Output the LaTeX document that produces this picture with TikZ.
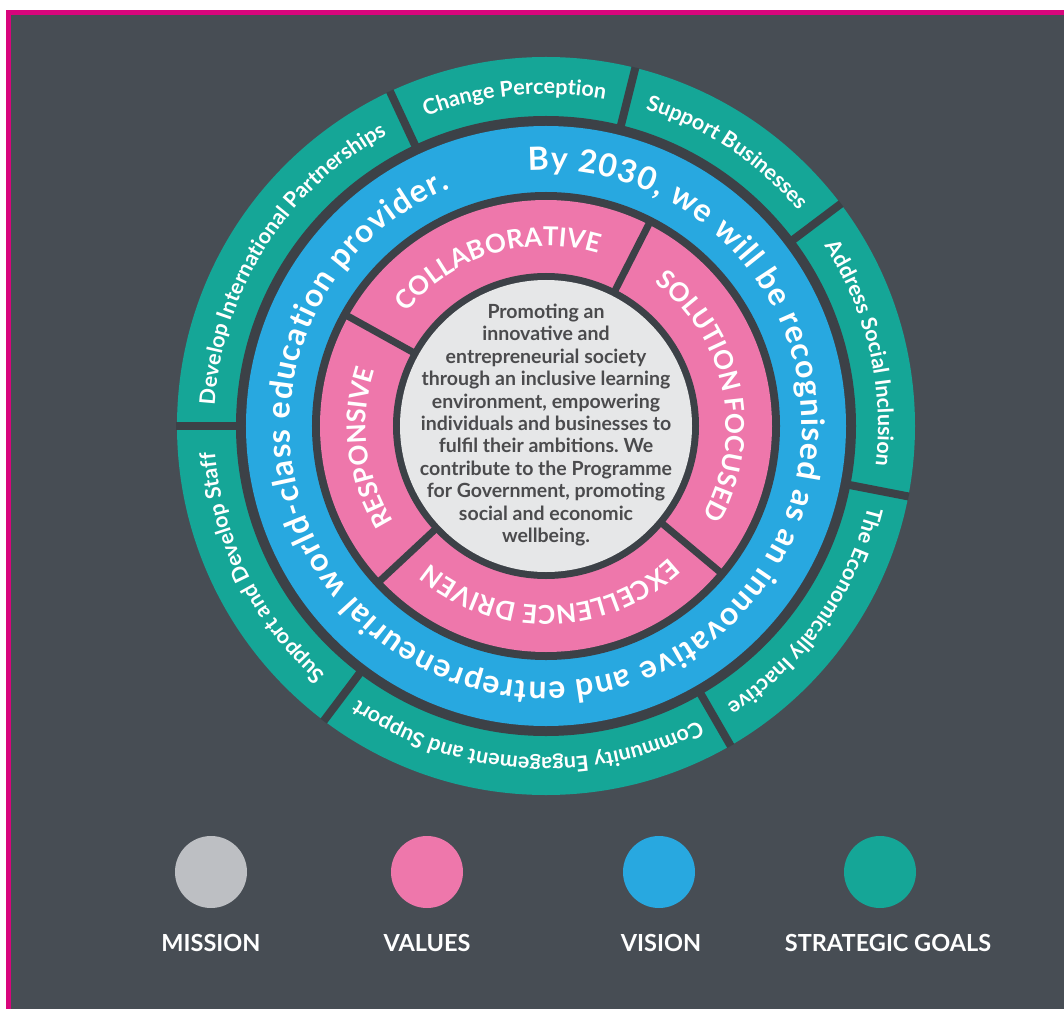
\documentclass[tikz,border=0pt]{standalone}
\usepackage{fontspec}
\setmainfont{Lato}
\usetikzlibrary{positioning,decorations.text}

\definecolor{framepink}{HTML}{D8057C}
\definecolor{boardgray}{HTML}{474D54}
\definecolor{gapgray}{HTML}{3C4147}
\definecolor{goalteal}{HTML}{15A697}
\definecolor{visionblue}{HTML}{28A8E0}
\definecolor{valuepink}{HTML}{EE77AB}
\definecolor{missiongray}{HTML}{E6E7E8}
\definecolor{legendgray}{HTML}{BDBFC3}
\definecolor{missiontext}{HTML}{4B4B4D}

\newcommand{\goalfont}{\fontsize{21.5}{21.5}\selectfont\bfseries}
\newcommand{\valuefont}{\fontsize{26}{26}\selectfont\bfseries}
\newcommand{\visionfont}{\fontsize{32}{32}\selectfont\bfseries}

\begin{document}
\frenchspacing
\begin{tikzpicture}[
    x=1pt, y=1pt,
    goaltext/.style={decorate, decoration={text along path, text align=center, text color=white, text/.expanded={|\noexpand\goalfont|#1}}},
    valuetext/.style={decorate, decoration={text along path, text align=center, text color=white, text/.expanded={|\noexpand\valuefont|#1}}},
    gapline/.style={draw=gapgray, line width=8pt},
    legenddot/.style={circle, minimum size=72pt, inner sep=0pt},
    legendlabel/.style={text=white, anchor=base, font=\fontsize{23.5}{23.5}\selectfont\bfseries}
]
\useasboundingbox (-546,-583) rectangle (518,426);
\fill[white] (-546,-583) rectangle (518,426);
\fill[framepink] (-540,-583) rectangle (518,416);
\fill[boardgray] (-535,-583) rectangle (518,411);

% rings, outside in
\fill[goalteal] (0,0) circle[radius=369];
\fill[gapgray] (0,0) circle[radius=310];
\fill[visionblue] (0,0) circle[radius=300];
\fill[gapgray] (0,0) circle[radius=234];
\fill[valuepink] (0,0) circle[radius=226];
\fill[gapgray] (0,0) circle[radius=153];
\fill[missiongray] (0,0) circle[radius=146];

% cuts between the segments
\foreach \a in {37,76,115,180,233,300,349}
    \draw[gapline] (\a:308) -- (\a:369.5);
\foreach \a in {63,151,223,320}
    \draw[gapline, line width=7pt] (\a:150) -- (\a:227);

% strategic goals
\foreach \s/\e/\txt in {76/115/Change Perception, 115/180/Develop International Partnerships,
    180/233/Support and Develop Staff, 233/300/Community Engagement and Support,
    300/349/The Economically Inactive, -11/37/Address Social Inclusion, 37/76/Support Businesses}
    \path[goaltext=\txt] (\e:332) arc[start angle=\e, end angle=\s, radius=332];

% vision
\path[decorate, decoration={text along path, text align=fit to path, text color=white,
    text={|\visionfont|By 2030{,} we will be recognised as an innovative and entrepreneurial world-class education provider.}}]
    (94:256) arc[start angle=94, end angle=-248, radius=256];

% values
\foreach \s/\e/\txt in {63/151/COLLABORATIVE, -40/63/SOLUTION FOCUSED,
    223/320/EXCELLENCE DRIVEN, 151/223/RESPONSIVE}
    \path[valuetext=\txt] (\e:180) arc[start angle=\e, end angle=\s, radius=180];

% mission
\node[align=center, text=missiontext, font=\fontsize{19.5}{22.4}\selectfont\bfseries] (mission) at (0,1)
    {Promoting an\\innovative and\\entrepreneurial society\\through an inclusive learning\\environment, empowering\\individuals and businesses to\\fulfil their ambitions. We\\contribute to the Programme\\for Government, promoting\\social and economic\\wellbeing.};

% legend
\foreach \x/\c/\t/\dx [count=\i] in {-335/legendgray/MISSION/0, -119/valuepink/VALUES/0,
    113/visionblue/VISION/2, 334/goalteal/STRATEGIC GOALS/8} {
    \node[legenddot, fill=\c] (dot\i) at (\x,-446) {};
    \node[legendlabel] (label\i) at (\x+\dx,-525) {\t};
}
\end{tikzpicture}
\end{document}
